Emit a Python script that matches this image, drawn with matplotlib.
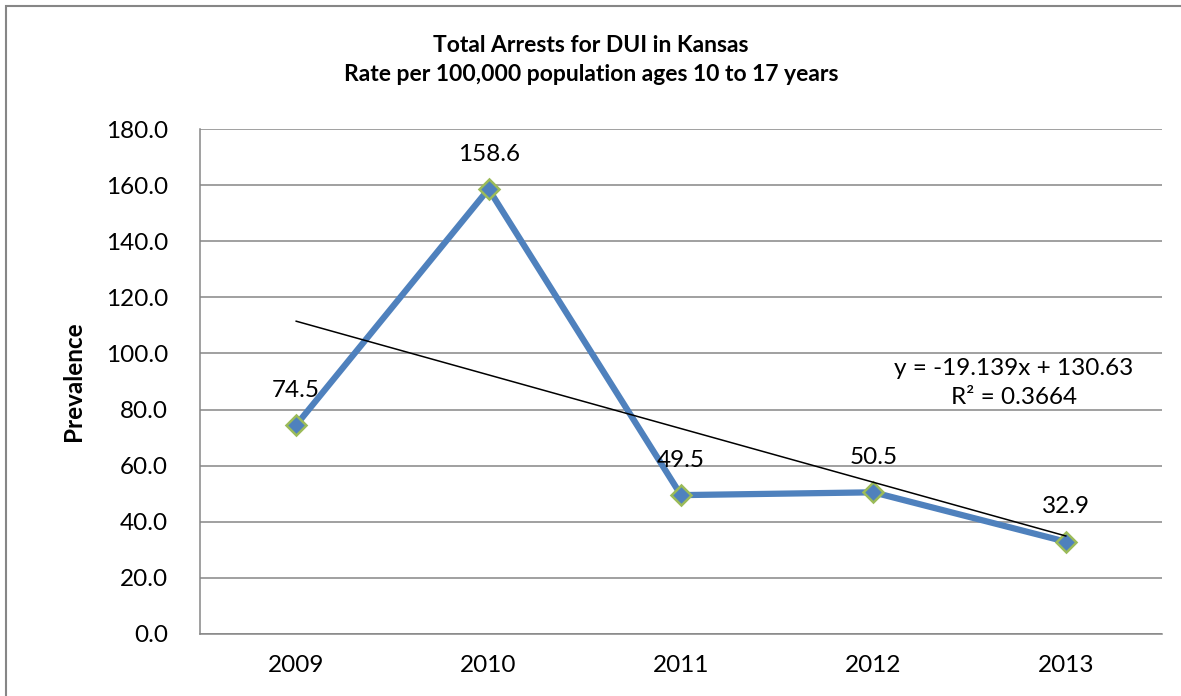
import numpy as np
import matplotlib.pyplot as plt
from matplotlib.patches import Rectangle

plt.rcParams['font.family'] = ['Lato', 'DejaVu Sans']

years = ['2009', '2010', '2011', '2012', '2013']
rates = [74.5, 158.6, 49.5, 50.5, 32.9]
y_ticks = [0, 20, 40, 60, 80, 100, 120, 140, 160, 180]

# linear trend in the spreadsheet's 1-based x
slope, intercept = -19.139, 130.63
r_squared = 0.3664

fs = 17.5

fig = plt.figure(figsize=(11.81, 6.96), dpi=100)
ax = fig.add_axes([200 / 1181, 1 - 634 / 696, 962 / 1181, 505 / 696])

# outer chart frame (runs off the right and bottom edges)
fig.patches.append(Rectangle((6 / 1181, -0.05), 1.1, 1 - 6 / 696 + 0.05,
                             transform=fig.transFigure, fill=False,
                             edgecolor='#868686', linewidth=1.5))

x = np.arange(len(years))
ax.plot(x, rates, color='#4F81BD', linewidth=4.5, zorder=3,
        marker='D', markersize=10, markerfacecolor='#4F81BD',
        markeredgecolor='#9BBB59', markeredgewidth=1.8,
        solid_joinstyle='round')

trend_x = np.array([x[0], x[-1]])
ax.plot(trend_x, slope * (trend_x + 1) + intercept, color='black',
        linewidth=1.1, zorder=4)

for xi, v in zip(x, rates):
    ax.annotate(f'{v:.1f}', (xi, v), xytext=(0, 25), textcoords='offset points',
                ha='center', va='center', fontsize=fs, zorder=5)

ax.text(3.73, 94.8, f'y = {slope}x + {intercept}', ha='center', va='center',
        fontsize=fs)
ax.text(3.73, 84.3, f'R² = {r_squared}', ha='center', va='center', fontsize=fs)

ax.set_xlim(-0.5, len(years) - 0.5)
ax.set_ylim(0, 180)
ax.set_xticks(x)
ax.set_xticklabels(years)
ax.set_yticks(y_ticks)
ax.set_yticklabels([f'{t:.1f}' for t in y_ticks])
ax.tick_params(length=0, labelsize=fs, pad=23)
ax.tick_params(axis='x', pad=15)

ax.grid(axis='y', color='#868686', linewidth=1.1)
ax.set_axisbelow(True)
for side in ['top', 'right']:
    ax.spines[side].set_visible(False)
for side in ['left', 'bottom']:
    ax.spines[side].set_color('#868686')
    ax.spines[side].set_linewidth(1.1)

ax.set_ylabel('Prevalence', fontsize=fs, fontweight='bold', labelpad=15)
fig.text(591 / 1181, 1 - 60 / 696,
         'Total Arrests for DUI in Kansas\nRate per 100,000 population ages 10 to 17 years',
         ha='center', va='center', fontsize=16.5, fontweight='bold', linespacing=1.45)

fig.savefig('out.png', dpi=100)
